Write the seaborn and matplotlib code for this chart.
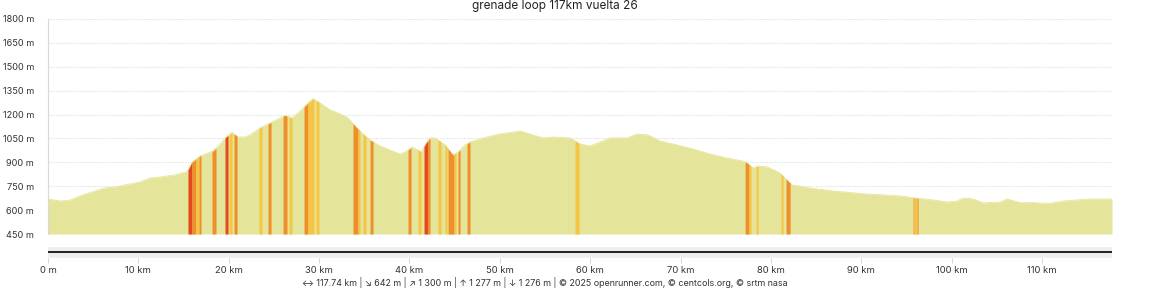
import numpy as np
import pandas as pd
import matplotlib
matplotlib.use("Agg")
import matplotlib.pyplot as plt
import seaborn as sns

# ---------------- data ----------------
distance_km = [0.0, 1.33, 2.43, 3.54, 5.20, 6.31, 7.41, 8.52, 10.18, 11.29, 12.39, 14.05,
               15.27, 15.49, 15.94, 16.82, 17.71, 18.26, 19.04, 19.70, 20.36, 21.03, 21.80,
               22.36, 23.46, 24.35, 25.45, 26.23, 27.00, 27.89, 28.77, 29.33, 30.10, 31.21,
               32.32, 33.20, 33.98, 34.75, 35.64, 36.74, 37.85, 38.96, 39.51, 40.28, 40.95,
               41.28, 41.83, 42.28, 42.83, 43.94, 44.82, 45.37, 46.15, 46.70, 48.58, 50.02,
               51.46, 52.24, 54.78, 55.89, 57.77, 58.88, 59.98, 61.09, 62.20, 64.08, 65.19,
               66.40, 67.73, 69.61, 71.38, 73.26, 75.14, 76.91, 77.36, 78.02, 78.57, 79.57,
               81.01, 81.78, 82.34, 84.33, 86.88, 90.64, 94.29, 95.95, 97.94, 99.49, 100.60,
               101.26, 102.37, 103.47, 105.36, 106.13, 107.57, 109.01, 110.89, 112.33, 113.88,
               115.32, 117.53, 117.74]
elevation_m = [670, 657, 663, 689, 720, 739, 745, 758, 777, 802, 808, 821,
               840, 852, 902, 940, 959, 971, 1015, 1059, 1088, 1059, 1059,
               1072, 1116, 1141, 1172, 1195, 1178, 1222, 1273, 1300, 1273, 1229,
               1204, 1178, 1128, 1084, 1040, 1003, 977, 952, 965, 996, 977,
               965, 1021, 1053, 1053, 1009, 946, 965, 1009, 1028, 1059, 1078,
               1090, 1097, 1053, 1059, 1053, 1015, 1003, 1028, 1053, 1053, 1078,
               1072, 1034, 1009, 984, 952, 927, 908, 896, 865, 877, 871,
               833, 789, 758, 739, 720, 701, 689, 676, 664, 651, 657,
               676, 670, 645, 651, 670, 647, 647, 642, 657, 664,
               670, 670, 670]

# steep sections (gradient classes)
steep_start_km = [15.49, 15.94, 16.38, 16.71, 18.15, 19.59, 20.03, 20.58, 23.35, 24.35,
                  26.01, 26.67, 28.33, 28.77, 29.66, 33.75, 34.31, 34.86, 35.64, 39.84,
                  40.95, 41.61, 42.05, 43.16, 43.94, 44.27, 44.93, 45.37, 46.37, 58.32,
                  77.14, 77.58, 78.35, 81.12, 81.67, 95.73, 95.84, 96.17]
steep_end_km = [15.94, 16.38, 16.71, 16.93, 18.59, 19.92, 20.36, 20.92, 23.68, 24.68,
                26.45, 27.00, 28.77, 29.44, 29.99, 34.31, 34.53, 35.19, 35.97, 40.17,
                41.28, 42.05, 42.28, 43.49, 44.16, 44.93, 45.15, 45.60, 46.70, 58.77,
                77.58, 77.80, 78.57, 81.34, 82.12, 95.84, 96.17, 96.28]
steep_class = ["red", "orange", "yellow", "orange", "orange", "red", "yellow", "orange",
               "yellow", "orange", "orange", "yellow", "orange", "yellow", "yellow",
               "orange", "yellow", "yellow", "orange", "orange", "yellow", "red", "orange",
               "yellow", "yellow", "orange", "yellow", "orange", "orange", "yellow",
               "orange", "yellow", "yellow", "yellow", "orange", "orange", "yellow", "orange"]

y_ticks_m = [450, 600, 750, 900, 1050, 1200, 1350, 1500, 1650, 1800]
x_ticks_km = [0, 10, 20, 30, 40, 50, 60, 70, 80, 90, 100, 110]
x_tick_labels = ["0 m", "10 km", "20 km", "30 km", "40 km", "50 km", "60 km", "70 km",
                 "80 km", "90 km", "100 km", "110 km"]
title_text = "grenade loop 117km vuelta 26"
footer_text = ("\u2194 117.74 km | \u2198 642 m | \u2197 1 300 m | \u2191 1 277 m | "
               "\u2193 1 276 m | \u00a9 2025 openrunner.com, \u00a9 centcols.org, \u00a9 srtm nasa")

# ---------------- style ----------------
sns.set_theme(style="white")
plt.rcParams['font.family'] = ['Inter', 'DejaVu Sans']

fill_col = "#e4e59a"
class_colors = {"yellow": "#f6c544", "orange": "#ef8f2b", "red": "#e4481b"}

W, H = 1150, 288
fig = plt.figure(figsize=(W / 100, H / 100), dpi=100)

# main profile axes
ax = fig.add_axes([48 / W, 1 - 234 / H, (1112 - 48) / W, (234 - 19) / H])
df = pd.DataFrame({"km": distance_km, "ele": elevation_m})
ax.fill_between(df["km"], 450, df["ele"], color=fill_col, lw=0, zorder=2)
sns.lineplot(data=df, x="km", y="ele", ax=ax, color=fill_col, lw=0.6, zorder=3)

for s, e, c in zip(steep_start_km, steep_end_km, steep_class):
    kk = np.linspace(s, e, 12)
    ee = np.interp(kk, distance_km, elevation_m)
    ax.fill_between(kk, 450, ee, color=class_colors[c], lw=0, zorder=4)

ax.set_xlim(0, 117.74)
ax.set_ylim(450, 1800)
ax.set_yticks(y_ticks_m)
ax.set_yticklabels([f"{v} m" for v in y_ticks_m])
ax.set_xticks([])
ax.set_xlabel("")
ax.set_ylabel("")
ax.tick_params(axis='y', length=0, pad=10, labelsize=6.6, colors="#333333")
ax.yaxis.grid(True, linestyle=(0, (1, 1.2)), color="#dcdcdc", lw=0.8)
ax.set_axisbelow(True)
for sp in ["top", "right", "bottom"]:
    ax.spines[sp].set_visible(False)
ax.spines["left"].set_color("#d8d8d8")
ax.spines["left"].set_linewidth(0.8)

# navigator axes
axn = fig.add_axes([48 / W, 1 - 258 / H, (1112 - 48) / W, 11 / H])
axn.set_facecolor("#eeeeee")
axn.set_xlim(0, 117.74)
axn.set_ylim(0, 1)
axn.axhline(0.55, color="#222222", lw=1.4)
axn.set_yticks([])
axn.set_xticks(x_ticks_km)
axn.set_xticklabels(x_tick_labels)
axn.tick_params(axis='x', length=3.5, width=0.6, color="#cccccc", pad=2.5,
                labelsize=6.8, labelcolor="#333333", bottom=True)
for sp in axn.spines.values():
    sp.set_visible(False)

fig.text(555 / W, 1 - 6 / H, title_text, ha="center", va="center",
         fontsize=8.5, color="#222222")
fig.text(545 / W, 0.0, footer_text, ha="center", va="bottom",
         fontsize=6.4, color="#333333")

fig.savefig("out.png", dpi=100)
